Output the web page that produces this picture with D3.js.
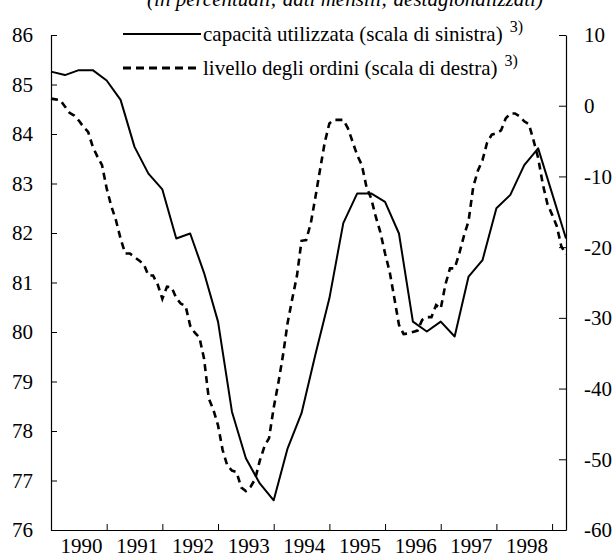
<!DOCTYPE html>
<html><head><meta charset="utf-8">
<script src="https://cdn.jsdelivr.net/npm/d3@7"></script>
<style>
html,body{margin:0;padding:0;background:#fff;}
svg{display:block;font-family:"Liberation Serif","Times New Roman",serif;}
</style></head>
<body><svg id="c" width="615" height="557"></svg>
<script>
// ---- data ----
const yearLabels = [1990,1991,1992,1993,1994,1995,1996,1997,1998];
const leftTicks = [76,77,78,79,80,81,82,83,84,85,86];
const rightTicks = [-60,-50,-40,-30,-20,-10,0,10];
// capacity utilisation, quarterly from 1990 Q1 (left scale)
const capacity = [85.26,85.19,85.29,85.29,85.08,84.69,83.74,83.2,
  82.88,81.89,81.99,81.19,80.21,78.39,77.45,76.94,
  76.6,77.65,78.36,79.55,80.68,82.2,82.8,82.8,
  82.63,81.99,80.21,80.01,80.21,79.91,81.12,81.45,
  82.5,82.77,83.37,83.71,82.8,81.89];
// order books, monthly from Jan 1990 (right scale)
const orders = [1.0,0.9,0.8,-0.1,-1.0,-1.4,-2.1,-3.0,-3.7,-5.8,-7.2,-8.4,
  -11.7,-14.2,-16.2,-18.8,-20.9,-20.9,-21.4,-21.9,-22.4,-24.0,-24.0,-25.3,
  -27.3,-25.6,-25.7,-27.2,-28.0,-28.3,-31.1,-32.1,-32.8,-35.8,-41.4,-43.0,
  -45.2,-48.7,-50.9,-51.6,-51.8,-54.0,-54.5,-53.9,-52.8,-50.2,-48.2,-47.0,
  -42.7,-39.2,-35.3,-30.7,-27.3,-24.1,-19.1,-19.0,-16.6,-12.9,-9.0,-5.2,
  -2.5,-2.0,-2.0,-2.0,-3.2,-5.1,-7.0,-8.4,-11.5,-13.1,-15.7,-17.9,
  -20.9,-23.5,-27.2,-31.0,-32.3,-32.2,-32.0,-31.8,-30.3,-29.9,-29.9,-28.2,
  -28.7,-25.3,-23.0,-23.0,-20.9,-18.4,-16.3,-11.5,-9.2,-7.7,-5.2,-4.1,
  -3.9,-3.5,-1.8,-1.1,-1.1,-1.5,-2.2,-2.6,-4.9,-7.4,-11.1,-13.9,
  -15.4,-17.0,-19.9,-21.0];
const legendLabels = ["capacità utilizzata (scala di sinistra)","livello degli ordini (scala di destra)"];
const titleText = "(in percentuali; dati mensili; destagionalizzati)";

// ---- layout ----
const L = 51, R = 566, T = 35, B = 530;
const FS = 21;
const svg = d3.select("#c");
svg.append("rect").attr("width",615).attr("height",557).attr("fill","#fff");

const x = d3.scaleLinear().domain([0, orders.length-1]).range([L, R]);
const yL = d3.scaleLinear().domain([76,86]).range([B, T]);
const yR = d3.scaleLinear().domain([-60,10]).range([B, T]);
const fmt = d => String(d);

// title (cut off at the top, as in the reference)
svg.append("text").attr("x",345).attr("y",6).attr("text-anchor","middle")
  .attr("font-style","italic").attr("font-size",FS).text(titleText);

// axes
const axL = d3.axisLeft(yL).tickValues(leftTicks).tickSize(-6).tickSizeOuter(0).tickPadding(18).tickFormat(fmt);
const gL = svg.append("g").attr("transform",`translate(${L},0)`).call(axL);
const axR = d3.axisRight(yR).tickValues(rightTicks).tickSize(-7).tickSizeOuter(0).tickPadding(18).tickFormat(fmt);
const gR = svg.append("g").attr("transform",`translate(${R},0)`).call(axR);
const axB = d3.axisBottom(x).tickValues(d3.range(12, orders.length, 12)).tickSize(-6).tickSizeOuter(0).tickFormat("");
const gB = svg.append("g").attr("transform",`translate(0,${B})`).call(axB);
[gL,gR,gB].forEach(g=>{
  g.attr("font-family","Liberation Serif").attr("font-size",FS);
  g.selectAll("path.domain").attr("stroke","#000").attr("stroke-width",1.2);
  g.selectAll(".tick line").attr("stroke","#000").attr("stroke-width",1);
  g.selectAll("text").attr("fill","#000");
});
gL.selectAll("text").attr("dy","0.33em");
gR.selectAll("text").attr("dy","0.33em");

// year labels centred mid-year
svg.append("g").selectAll("text").data(yearLabels).join("text")
  .attr("x",(d,i)=>x(i*12+6.6)).attr("y",553).attr("text-anchor","middle")
  .attr("font-size",FS).text(d=>d);

// lines
const lineCap = d3.line().x((d,i)=>x(i*3)).y(d=>yL(d));
const lineOrd = d3.line().x((d,i)=>x(i)).y(d=>yR(d));
svg.append("path").datum(orders).attr("d",lineOrd).attr("fill","none")
  .attr("stroke","#000").attr("stroke-width",2.6).attr("stroke-dasharray","7,5");
svg.append("path").datum(capacity).attr("d",lineCap).attr("fill","none")
  .attr("stroke","#000").attr("stroke-width",2).attr("stroke-linejoin","round");

// legend
const leg = svg.append("g");
const rows = [{y:34, dash:null, w:2},{y:68, dash:"8,5", w:2.8}];
rows.forEach((r,i)=>{
  leg.append("line").attr("x1",123).attr("x2",201).attr("y1",r.y).attr("y2",r.y)
    .attr("stroke","#000").attr("stroke-width",r.w).attr("stroke-dasharray",r.dash);
  const t = leg.append("text").attr("x",203).attr("y",r.y+7).attr("font-size",FS).text(legendLabels[i]);
  t.append("tspan").attr("dx",7).attr("dy",-9).attr("font-size",16).text("3)");
});
</script></body></html>
